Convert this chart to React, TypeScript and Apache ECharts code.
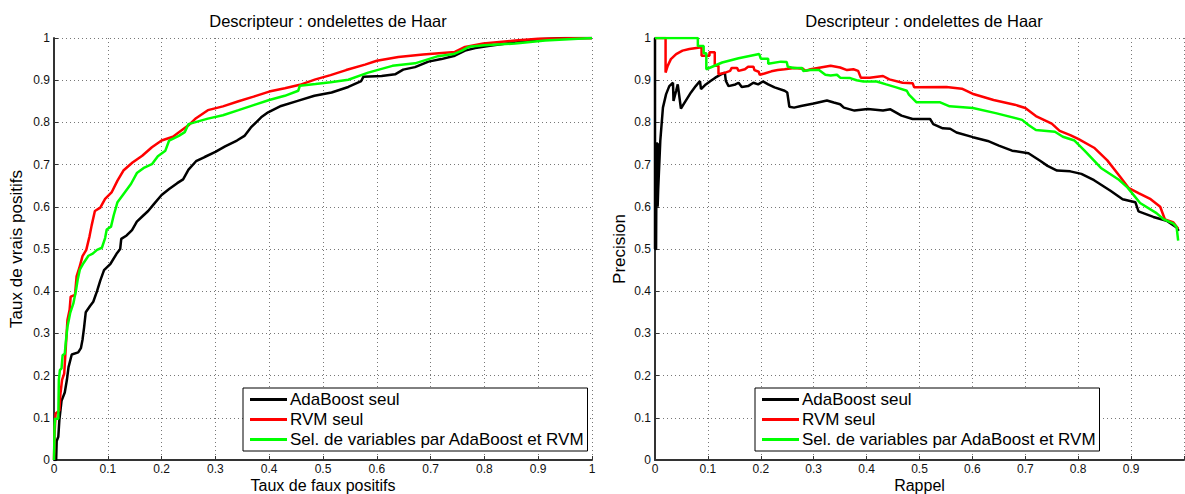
import React, { useEffect, useRef } from "react";
import * as echarts from "echarts";

const seriesNames = ["AdaBoost seul", "RVM seul", "Sel. de variables par AdaBoost et RVM"];
const seriesColors = ["#000000", "#ff0000", "#00ff00"];
const titleText = "Descripteur : ondelettes de Haar";

// ROC curves: [taux de faux positifs, taux de vrais positifs]
const rocAdaBoost = [
  [0, 0], [0.004, 0], [0.005, 0.045], [0.008, 0.055], [0.01, 0.095], [0.014, 0.14], [0.02, 0.16], [0.024, 0.19],
  [0.027, 0.22], [0.033, 0.25], [0.045, 0.255], [0.05, 0.265], [0.053, 0.285], [0.056, 0.315], [0.059, 0.35],
  [0.067, 0.365], [0.073, 0.375], [0.08, 0.4], [0.086, 0.425], [0.093, 0.45], [0.105, 0.465], [0.117, 0.49],
  [0.123, 0.5], [0.125, 0.524], [0.135, 0.532], [0.145, 0.545], [0.154, 0.565], [0.164, 0.577], [0.175, 0.59],
  [0.186, 0.607], [0.2, 0.628], [0.214, 0.642], [0.229, 0.656], [0.24, 0.665], [0.25, 0.688], [0.264, 0.708],
  [0.28, 0.718], [0.3, 0.73], [0.318, 0.743], [0.34, 0.757], [0.354, 0.768], [0.366, 0.788], [0.385, 0.812],
  [0.398, 0.824], [0.422, 0.839], [0.453, 0.851], [0.484, 0.863], [0.516, 0.871], [0.547, 0.884], [0.571, 0.898],
  [0.575, 0.908], [0.609, 0.91], [0.634, 0.914], [0.649, 0.925], [0.671, 0.931], [0.696, 0.944], [0.72, 0.95],
  [0.745, 0.958], [0.764, 0.97], [0.783, 0.976], [0.807, 0.981], [0.86, 0.99], [0.9, 0.997], [0.95, 1], [1, 1],
];
const rocRvm = [
  [0, 0], [0.001, 0.062], [0.003, 0.11], [0.01, 0.117], [0.012, 0.157], [0.015, 0.19], [0.019, 0.205],
  [0.022, 0.268], [0.025, 0.332], [0.029, 0.356], [0.031, 0.387], [0.039, 0.391], [0.042, 0.435], [0.047, 0.455],
  [0.053, 0.483], [0.06, 0.498], [0.066, 0.53], [0.07, 0.556], [0.076, 0.59], [0.086, 0.598], [0.095, 0.619],
  [0.107, 0.634], [0.118, 0.662], [0.129, 0.686], [0.146, 0.705], [0.164, 0.721], [0.182, 0.741], [0.2, 0.757],
  [0.221, 0.766], [0.236, 0.78], [0.25, 0.793], [0.264, 0.81], [0.286, 0.829], [0.314, 0.838], [0.343, 0.85],
  [0.371, 0.861], [0.4, 0.873], [0.429, 0.881], [0.457, 0.889], [0.486, 0.902], [0.514, 0.912], [0.543, 0.924],
  [0.578, 0.937], [0.6, 0.946], [0.64, 0.955], [0.686, 0.961], [0.745, 0.967], [0.764, 0.979], [0.798, 0.987],
  [0.857, 0.994], [0.9, 0.998], [1, 1],
];
const rocSel = [
  [0, 0], [0.001, 0.078], [0.002, 0.098], [0.008, 0.098], [0.009, 0.19], [0.011, 0.213], [0.014, 0.217],
  [0.016, 0.248], [0.02, 0.252], [0.022, 0.28], [0.025, 0.316], [0.03, 0.348], [0.036, 0.371], [0.041, 0.403],
  [0.044, 0.427], [0.048, 0.451], [0.055, 0.467], [0.064, 0.484], [0.072, 0.489], [0.08, 0.498], [0.089, 0.503],
  [0.095, 0.526], [0.098, 0.546], [0.106, 0.553], [0.111, 0.58], [0.118, 0.611], [0.129, 0.63], [0.143, 0.654],
  [0.154, 0.68], [0.168, 0.693], [0.182, 0.701], [0.193, 0.72], [0.207, 0.733], [0.214, 0.757], [0.232, 0.768],
  [0.243, 0.777], [0.25, 0.796], [0.286, 0.809], [0.314, 0.817], [0.343, 0.829], [0.371, 0.841], [0.4, 0.853],
  [0.429, 0.863], [0.454, 0.875], [0.457, 0.887], [0.486, 0.891], [0.514, 0.895], [0.547, 0.901], [0.584, 0.918],
  [0.629, 0.934], [0.671, 0.94], [0.714, 0.957], [0.743, 0.962], [0.758, 0.97], [0.771, 0.979], [0.8, 0.983],
  [0.857, 0.987], [0.913, 0.994], [1, 1],
];

// Precision / recall curves: [rappel, precision]
const prAdaBoost = [
  [0, 1], [0, 0.5], [0.002, 0.5], [0.003, 0.75], [0.005, 0.75], [0.005, 0.6], [0.006, 0.64], [0.01, 0.756],
  [0.015, 0.835], [0.021, 0.867], [0.027, 0.886], [0.034, 0.894], [0.035, 0.851], [0.04, 0.875], [0.043, 0.89],
  [0.049, 0.833], [0.058, 0.851], [0.068, 0.871], [0.077, 0.886], [0.085, 0.898], [0.087, 0.879], [0.096, 0.89],
  [0.105, 0.898], [0.114, 0.906], [0.124, 0.913], [0.132, 0.918], [0.134, 0.898], [0.139, 0.886], [0.152, 0.89],
  [0.158, 0.894], [0.164, 0.884], [0.176, 0.886], [0.186, 0.894], [0.195, 0.89], [0.204, 0.897], [0.214, 0.89],
  [0.226, 0.883], [0.245, 0.875], [0.25, 0.871], [0.254, 0.837], [0.263, 0.835], [0.276, 0.839], [0.3, 0.845],
  [0.325, 0.852], [0.338, 0.847], [0.35, 0.843], [0.357, 0.835], [0.377, 0.828], [0.402, 0.832], [0.431, 0.828],
  [0.445, 0.831], [0.466, 0.816], [0.487, 0.808], [0.52, 0.808], [0.526, 0.796], [0.544, 0.786], [0.558, 0.785],
  [0.57, 0.776], [0.601, 0.765], [0.629, 0.756], [0.65, 0.745], [0.675, 0.733], [0.706, 0.727], [0.728, 0.709],
  [0.742, 0.697], [0.76, 0.686], [0.785, 0.684], [0.806, 0.678], [0.83, 0.663], [0.861, 0.638], [0.884, 0.618],
  [0.908, 0.611], [0.914, 0.589], [0.942, 0.576], [0.967, 0.567], [0.986, 0.551], [0.99, 0.543],
];
const prRvm = [
  [0, 1], [0.02, 1], [0.02, 0.918], [0.024, 0.934], [0.03, 0.95], [0.04, 0.962], [0.052, 0.97], [0.065, 0.974],
  [0.088, 0.978], [0.088, 0.958], [0.103, 0.958], [0.103, 0.966], [0.113, 0.966], [0.113, 0.934], [0.12, 0.934],
  [0.12, 0.914], [0.133, 0.918], [0.142, 0.922], [0.145, 0.929], [0.155, 0.929], [0.158, 0.922], [0.17, 0.926],
  [0.176, 0.932], [0.186, 0.932], [0.188, 0.924], [0.196, 0.92], [0.198, 0.913], [0.207, 0.916], [0.22, 0.921],
  [0.232, 0.924], [0.245, 0.926], [0.263, 0.929], [0.28, 0.927], [0.284, 0.922], [0.294, 0.926], [0.313, 0.93],
  [0.332, 0.934], [0.35, 0.93], [0.363, 0.924], [0.375, 0.926], [0.384, 0.922], [0.389, 0.906], [0.406, 0.906],
  [0.431, 0.91], [0.443, 0.902], [0.468, 0.894], [0.487, 0.893], [0.49, 0.883], [0.551, 0.884], [0.58, 0.88],
  [0.6, 0.868], [0.64, 0.853], [0.68, 0.842], [0.7, 0.834], [0.72, 0.815], [0.75, 0.797], [0.765, 0.78],
  [0.785, 0.77], [0.8, 0.761], [0.83, 0.74], [0.855, 0.71], [0.88, 0.67], [0.895, 0.645], [0.915, 0.632],
  [0.937, 0.618], [0.955, 0.6], [0.964, 0.57], [0.98, 0.563], [0.989, 0.548],
];
const prSel = [
  [0, 1], [0.081, 1], [0.081, 0.981], [0.092, 0.981], [0.092, 0.964], [0.097, 0.964], [0.097, 0.926],
  [0.127, 0.942], [0.158, 0.952], [0.197, 0.962], [0.2, 0.951], [0.214, 0.951], [0.214, 0.939], [0.238, 0.944],
  [0.249, 0.943], [0.251, 0.932], [0.263, 0.929], [0.278, 0.929], [0.28, 0.922], [0.294, 0.924], [0.31, 0.924],
  [0.322, 0.913], [0.332, 0.911], [0.344, 0.913], [0.35, 0.906], [0.369, 0.905], [0.381, 0.9], [0.394, 0.897],
  [0.419, 0.897], [0.437, 0.89], [0.456, 0.883], [0.476, 0.875], [0.48, 0.866], [0.494, 0.848], [0.538, 0.848],
  [0.557, 0.838], [0.601, 0.834], [0.644, 0.822], [0.694, 0.806], [0.706, 0.794], [0.72, 0.782], [0.756, 0.778],
  [0.771, 0.766], [0.793, 0.757], [0.812, 0.733], [0.843, 0.692], [0.877, 0.664], [0.893, 0.646], [0.917, 0.609],
  [0.948, 0.585], [0.962, 0.57], [0.98, 0.56], [0.986, 0.552], [0.989, 0.52],
];

const FONT = "'Liberation Sans', Arial, Helvetica, sans-serif";

export default function App() {
  const ref = useRef<HTMLDivElement>(null);

  useEffect(() => {
    if (!ref.current) return;
    const chart = echarts.init(ref.current, undefined, { renderer: "svg" });

    const makeXAxis = (gridIndex: number, name: string, hideMax: boolean) => ({
      type: "value",
      gridIndex,
      min: 0,
      max: 1,
      interval: 0.1,
      name,
      nameLocation: "middle",
      nameGap: 17,
      nameMoveOverlap: false,
      nameTextStyle: { fontSize: 16, lineHeight: 16, color: "#000", fontFamily: FONT },
      axisLine: { show: true, onZero: false, lineStyle: { color: "#333", width: 2 } },
      axisTick: { show: true, inside: true, length: 4, lineStyle: { color: "#333" } },
      axisLabel: {
        margin: 3,
        fontSize: 12,
        color: "#111",
        fontFamily: FONT,
        formatter: (v: number) => (hideMax && v >= 1 ? "" : String(Math.round(v * 10) / 10)),
      },
      splitLine: { show: true, lineStyle: { color: "#777", width: 1, type: [1, 3] } },
    });

    const makeYAxis = (gridIndex: number, name: string, gap: number) => ({
      type: "value",
      gridIndex,
      min: 0,
      max: 1,
      interval: 0.1,
      name,
      nameLocation: "middle",
      nameGap: gap,
      nameMoveOverlap: false,
      nameTextStyle: { fontSize: 17, color: "#000", fontFamily: FONT },
      axisLine: { show: true, onZero: false, lineStyle: { color: "#333", width: 2 } },
      axisTick: { show: true, inside: true, length: 4, lineStyle: { color: "#333" } },
      axisLabel: {
        margin: 4,
        fontSize: 12,
        color: "#111",
        fontFamily: FONT,
        formatter: (v: number) => String(Math.round(v * 10) / 10),
      },
      splitLine: { show: true, lineStyle: { color: "#777", width: 1, type: [1, 3] } },
    });

    const rocData = [rocAdaBoost, rocRvm, rocSel];
    const prData = [prAdaBoost, prRvm, prSel];

    const series: any[] = [];
    rocData.forEach((d, i) =>
      series.push({
        type: "line",
        name: seriesNames[i],
        xAxisIndex: 0,
        yAxisIndex: 0,
        data: d,
        symbol: "none",
        showSymbol: false,
        lineStyle: { color: seriesColors[i], width: 2.5 },
        itemStyle: { color: seriesColors[i] },
        z: 2 + i,
      })
    );
    prData.forEach((d, i) =>
      series.push({
        type: "line",
        name: seriesNames[i],
        xAxisIndex: 1,
        yAxisIndex: 1,
        data: d,
        symbol: "none",
        showSymbol: false,
        lineStyle: { color: seriesColors[i], width: 2.5 },
        itemStyle: { color: seriesColors[i] },
        z: 2 + i,
      })
    );

    const makeLegend = (left: number) => ({
      orient: "vertical",
      left,
      top: 388,
      data: seriesNames,
      icon: "rect",
      itemWidth: 37,
      itemHeight: 3,
      itemGap: 3,
      padding: [3, 3, 3, 7],
      borderColor: "#000",
      borderWidth: 1,
      backgroundColor: "#fff",
      selectedMode: false,
      textStyle: { fontSize: 17, color: "#000", fontFamily: FONT, padding: [0, 0, 0, -2] },
    });

    chart.setOption({
      animation: false,
      backgroundColor: "#fff",
      textStyle: { fontFamily: FONT },
      title: [
        {
          text: titleText,
          left: 323,
          top: 7,
          textAlign: "center",
          textStyle: { fontSize: 16.5, fontWeight: "normal", color: "#000", fontFamily: FONT },
        },
        {
          text: titleText,
          left: 919,
          top: 7,
          textAlign: "center",
          textStyle: { fontSize: 16.5, fontWeight: "normal", color: "#000", fontFamily: FONT },
        },
      ],
      legend: [makeLegend(243), makeLegend(755)],
      grid: [
        { left: 54, right: 593, top: 38, bottom: 34, containLabel: false, outerBoundsMode: "none" },
        { left: 655, right: 1, top: 38, bottom: 34, containLabel: false, outerBoundsMode: "none" },
      ],
      xAxis: [makeXAxis(0, "Taux de faux positifs", false), makeXAxis(1, "Rappel", true)],
      yAxis: [makeYAxis(0, "Taux de vrais positifs", 29), makeYAxis(1, "Precision", 27)],
      series,
    });

    return () => chart.dispose();
  }, []);

  return (
    <div
      ref={ref}
      style={{ position: "absolute", left: 0, top: 0, width: 1185, height: 494, background: "#fff" }}
    />
  );
}
